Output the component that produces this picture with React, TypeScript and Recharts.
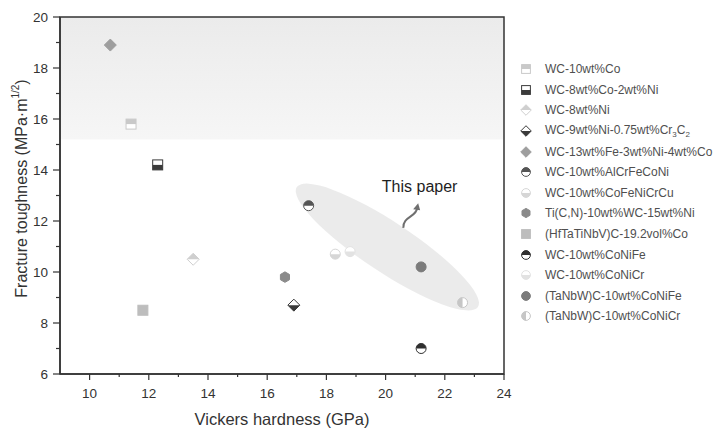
import { ReferenceArea, ReferenceDot, Scatter, ScatterChart, XAxis, YAxis } from "recharts";

const materials = [
  "WC-10wt%Co",
  "WC-8wt%Co-2wt%Ni",
  "WC-8wt%Ni",
  "WC-9wt%Ni-0.75wt%Cr3C2",
  "WC-13wt%Fe-3wt%Ni-4wt%Co",
  "WC-10wt%AlCrFeCoNi",
  "WC-10wt%CoFeNiCrCu",
  "Ti(C,N)-10wt%WC-15wt%Ni",
  "(HfTaTiNbV)C-19.2vol%Co",
  "WC-10wt%CoNiFe",
  "WC-10wt%CoNiCr",
  "(TaNbW)C-10wt%CoNiFe",
  "(TaNbW)C-10wt%CoNiCr",
];
const hardness = [11.4, 12.3, 13.5, 16.9, 10.7, 17.4, 18.3, 16.6, 11.8, 21.2, 18.8, 21.2, 22.6];
const toughness = [15.8, 14.2, 10.5, 8.7, 18.9, 12.6, 10.7, 9.8, 8.5, 7.0, 10.8, 10.2, 8.8];

const xTicks = [10, 11, 12, 13, 14, 15, 16, 17, 18, 19, 20, 21, 22, 23, 24];
const yTicks = [6, 7, 8, 9, 10, 11, 12, 13, 14, 15, 16, 17, 18, 19, 20];

// marker look for each material (same order as above)
type Kind = "circle" | "square" | "diamond" | "hexagon";
type Half = "full" | "top" | "bottom" | "left";
const markerStyles: { kind: Kind; color: string; half: Half }[] = [
  { kind: "square", color: "#c9c9c9", half: "top" },
  { kind: "square", color: "#3b3b3b", half: "bottom" },
  { kind: "diamond", color: "#cfcfcf", half: "top" },
  { kind: "diamond", color: "#3a3a3a", half: "bottom" },
  { kind: "diamond", color: "#9e9e9e", half: "full" },
  { kind: "circle", color: "#555555", half: "top" },
  { kind: "circle", color: "#d6d6d6", half: "bottom" },
  { kind: "hexagon", color: "#8a8a8a", half: "full" },
  { kind: "square", color: "#bdbdbd", half: "full" },
  { kind: "circle", color: "#2f2f2f", half: "top" },
  { kind: "circle", color: "#e2e2e2", half: "bottom" },
  { kind: "circle", color: "#7b7b7b", half: "full" },
  { kind: "circle", color: "#c6c6c6", half: "left" },
];

const FONT = "'Liberation Sans', Arial, sans-serif";
const AXIS = "#333333";

interface MarkerProps {
  cx: number;
  cy: number;
  r: number;
  kind: Kind;
  color: string;
  half: Half;
}

function Marker({ cx, cy, r, kind, color, half }: MarkerProps) {
  const full = half === "full";
  const base = { stroke: color, strokeWidth: 1, fill: full ? color : "#ffffff" };
  if (kind === "square") {
    return (
      <g>
        <rect x={cx - r} y={cy - r} width={2 * r} height={2 * r} {...base} />
        {half === "top" && <rect x={cx - r} y={cy - r} width={2 * r} height={r} fill={color} />}
        {half === "bottom" && <rect x={cx - r} y={cy} width={2 * r} height={r} fill={color} />}
      </g>
    );
  }
  if (kind === "diamond") {
    const d = r * 1.2;
    return (
      <g>
        <polygon points={`${cx},${cy - d} ${cx + d},${cy} ${cx},${cy + d} ${cx - d},${cy}`} {...base} />
        {half === "top" && <polygon points={`${cx - d},${cy} ${cx},${cy - d} ${cx + d},${cy}`} fill={color} />}
        {half === "bottom" && <polygon points={`${cx - d},${cy} ${cx},${cy + d} ${cx + d},${cy}`} fill={color} />}
      </g>
    );
  }
  if (kind === "hexagon") {
    const pts = [0, 1, 2, 3, 4, 5]
      .map((i) => {
        const a = (Math.PI / 3) * i + Math.PI / 6;
        return `${cx + r * 1.05 * Math.cos(a)},${cy + r * 1.05 * Math.sin(a)}`;
      })
      .join(" ");
    return <polygon points={pts} fill={color} stroke={color} />;
  }
  return (
    <g>
      <circle cx={cx} cy={cy} r={r} {...base} />
      {half === "top" && <path d={`M${cx - r},${cy} A${r},${r} 0 0 1 ${cx + r},${cy} Z`} fill={color} />}
      {half === "bottom" && <path d={`M${cx - r},${cy} A${r},${r} 0 0 0 ${cx + r},${cy} Z`} fill={color} />}
      {half === "left" && <path d={`M${cx},${cy - r} A${r},${r} 0 0 0 ${cx},${cy + r} Z`} fill={color} />}
    </g>
  );
}

function XTick(props: any) {
  const { x, y, payload } = props;
  const major = payload.value % 2 === 0;
  return (
    <g>
      <line x1={x} x2={x} y1={y} y2={y + (major ? 6 : 3)} stroke={AXIS} strokeWidth={1.2} />
      {major && (
        <text x={x} y={y + 24} textAnchor="middle" fontSize={13.5} fill={AXIS} fontFamily={FONT}>
          {payload.value}
        </text>
      )}
    </g>
  );
}

function YTick(props: any) {
  const { x, y, payload } = props;
  const major = payload.value % 2 === 0;
  return (
    <g>
      <line x1={x} x2={x - (major ? 7 : 4)} y1={y} y2={y} stroke={AXIS} strokeWidth={1.2} />
      {major && (
        <text x={x - 12} y={y + 5} textAnchor="end" fontSize={13.5} fill={AXIS} fontFamily={FONT}>
          {payload.value}
        </text>
      )}
    </g>
  );
}

function YLabel(props: any) {
  const vb = props.viewBox || { x: 0, y: 17, width: 60, height: 357 };
  const cx = 21;
  const cy = vb.y + vb.height / 2 - 7;
  return (
    <text
      x={cx}
      y={cy}
      transform={`rotate(-90 ${cx} ${cy})`}
      textAnchor="middle"
      dominantBaseline="central"
      fontSize={16}
      fill={AXIS}
      fontFamily={FONT}
    >
      Fracture toughness (MPa·m
      <tspan fontSize={10} dy={-6}>
        1/2
      </tspan>
      <tspan dy={6}>)</tspan>
    </text>
  );
}

function Band(props: any) {
  const { x, y, width, height } = props;
  return (
    <g>
      <defs>
        <linearGradient id="bandFill" x1="0" y1="0" x2="0" y2="1">
          <stop offset="0%" stopColor="#ebebeb" />
          <stop offset="100%" stopColor="#f6f6f6" />
        </linearGradient>
      </defs>
      <rect x={x} y={y} width={width} height={height} fill="url(#bandFill)" />
    </g>
  );
}

function Ellipse(props: any) {
  const { x, y, width, height } = props;
  const cx = x + width / 2;
  const cy = y + height / 2;
  const angle = (Math.atan2(height, width) * 180) / Math.PI;
  const rx = Math.hypot(width, height) / 2;
  return (
    <ellipse
      cx={cx}
      cy={cy}
      rx={rx}
      ry={25}
      transform={`rotate(${angle} ${cx} ${cy})`}
      fill="#dedede"
      fillOpacity={0.6}
    />
  );
}

function Arrow(props: any) {
  const { x, y, width: w, height: h } = props;
  const x0 = x;
  const y0 = y + h;
  const x1 = x + w;
  const y1 = y;
  return (
    <g>
      <path
        d={`M${x0},${y0} C${x0 - 1},${y0 - h * 0.45} ${x0 + w * 0.9},${y0 - h * 0.45} ${x1 - 1},${y1 + 5}`}
        fill="none"
        stroke="#6f6f6f"
        strokeWidth={2}
      />
      <polygon points={`${x1},${y1} ${x1 - 5},${y1 + 6} ${x1 + 2},${y1 + 7}`} fill="#6f6f6f" />
    </g>
  );
}

function LegendLabel({ name }: { name: string }) {
  if (name.endsWith("Cr3C2")) {
    const head = name.slice(0, -5);
    return (
      <span>
        {head}Cr<sub style={{ fontSize: 8 }}>3</sub>C<sub style={{ fontSize: 8 }}>2</sub>
      </span>
    );
  }
  return <span>{name}</span>;
}

export default function App() {
  const series = materials.map((name, i) => ({
    name,
    style: markerStyles[i],
    data: [{ x: hardness[i], y: toughness[i] }],
  }));

  return (
    <div style={{ position: "absolute", left: 0, top: 0, width: 714, height: 428, background: "#ffffff", fontFamily: FONT }}>
      <ScatterChart width={714} height={428} margin={{ top: 17, right: 210, bottom: 0, left: 0 }}>
        <XAxis
          type="number"
          dataKey="x"
          domain={[9, 24]}
          ticks={xTicks}
          interval={0}
          height={54}
          tickSize={0}
          tickMargin={0}
          tickLine={false}
          tick={<XTick />}
          axisLine={{ stroke: AXIS, strokeWidth: 1.5 }}
          allowDataOverflow
          label={{ value: "Vickers hardness (GPa)", position: "insideBottom", offset: 3, fontSize: 16.5, fill: AXIS, fontFamily: FONT }}
        />
        <YAxis
          type="number"
          dataKey="y"
          domain={[6, 20]}
          ticks={yTicks}
          interval={0}
          width={60}
          tickSize={0}
          tickMargin={0}
          tickLine={false}
          tick={<YTick />}
          axisLine={{ stroke: AXIS, strokeWidth: 1.5 }}
          allowDataOverflow
          label={{ content: <YLabel /> }}
        />
        <ReferenceArea x1={9} x2={24} y1={15.2} y2={20} shape={<Band />} />
        <ReferenceArea x1={17.0} x2={23.12} y1={8.63} y2={13.33} shape={<Ellipse />} />
        <ReferenceArea x1={20.6} x2={21.1} y1={11.73} y2={12.7} shape={<Arrow />} />
        <ReferenceDot
          x={21.15}
          y={13.35}
          r={1}
          fill="none"
          stroke="none"
          label={{ value: "This paper", position: "center", fontSize: 16, fill: "#1e1e1e", fontFamily: FONT }}
        />
        <ReferenceArea x1={9} x2={24} y1={6} y2={20} fill="none" stroke={AXIS} strokeWidth={1.5} />
        {series.map((s) => (
          <Scatter
            key={s.name}
            name={s.name}
            data={s.data}
            isAnimationActive={false}
            shape={(p: any) => <Marker cx={p.cx} cy={p.cy} r={5} {...s.style} />}
          />
        ))}
      </ScatterChart>
      <div style={{ position: "absolute", left: 519, top: 59, fontSize: 12, color: "#4f4f4f" }}>
        {series.map((s) => (
          <div key={s.name} style={{ height: 20.6, display: "flex", alignItems: "center", whiteSpace: "nowrap" }}>
            <svg width={14} height={14} style={{ marginRight: 12, flexShrink: 0 }}>
              <Marker cx={7} cy={7} r={4.4} {...s.style} />
            </svg>
            <LegendLabel name={s.name} />
          </div>
        ))}
      </div>
    </div>
  );
}
